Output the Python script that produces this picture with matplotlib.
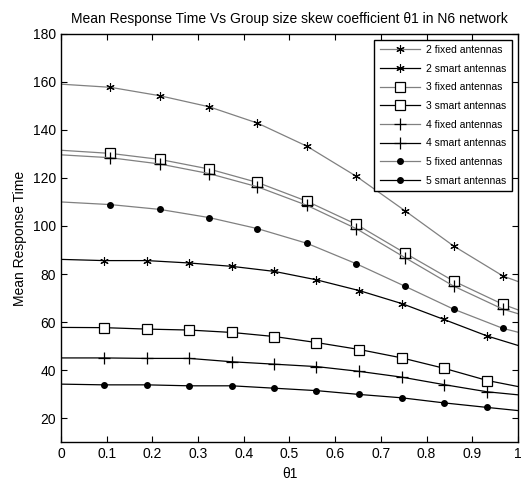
import matplotlib
matplotlib.use("Agg")
import matplotlib.pyplot as plt
import numpy as np

plt.rcParams['font.family'] = ['Liberation Sans', 'DejaVu Sans']

# x positions (start, marker positions, end)
x_fixed = [0.0, 0.108, 0.216, 0.324, 0.430, 0.538, 0.646, 0.753, 0.859, 0.967, 1.0]
x_smart = [0.0, 0.094, 0.188, 0.281, 0.374, 0.467, 0.559, 0.653, 0.746, 0.838, 0.933, 1.0]

fixed2 = [159.0, 157.7, 154.2, 149.6, 142.8, 133.2, 120.7, 106.3, 91.7, 79.2, 76.9]
fixed3 = [131.5, 130.2, 127.7, 123.7, 118.1, 110.3, 100.7, 88.7, 77.1, 67.4, 65.1]
fixed4 = [129.6, 128.4, 125.8, 121.8, 116.3, 108.6, 98.9, 86.8, 75.0, 65.4, 63.5]
fixed5 = [110.0, 108.9, 106.9, 103.5, 98.9, 92.8, 84.3, 74.9, 65.4, 57.4, 55.8]

smart2 = [86.1, 85.6, 85.6, 84.6, 83.2, 81.1, 77.6, 73.1, 67.7, 61.1, 54.2, 50.3]
smart3 = [57.8, 57.7, 57.1, 56.7, 55.7, 54.0, 51.5, 48.6, 45.1, 40.8, 35.7, 33.2]
smart4 = [45.1, 45.1, 44.9, 44.9, 43.5, 42.5, 41.5, 39.5, 37.1, 34.0, 31.0, 29.75]
smart5 = [34.2, 33.9, 33.9, 33.5, 33.5, 32.5, 31.5, 29.9, 28.5, 26.4, 24.5, 23.2]

labels = ["2 fixed antennas", "2 smart antennas", "3 fixed antennas", "3 smart antennas",
          "4 fixed antennas", "4 smart antennas", "5 fixed antennas", "5 smart antennas"]

fig = plt.figure(figsize=(5.24, 4.87), dpi=100)
ax = fig.add_axes([0.1164, 0.0918, 0.8721, 0.839])

gray = '#808080'
markers = {'2': dict(marker=(6, 2, 0), ms=6, mfc='k', mec='k', mew=0.8),
           '3': dict(marker='s', ms=7.5, mfc='white', mec='k', mew=0.9),
           '4': dict(marker='+', ms=9, mec='k', mew=0.9),
           '5': dict(marker='o', ms=4, mfc='k', mec='k')}

series = [('2', fixed2, smart2), ('3', fixed3, smart3), ('4', fixed4, smart4), ('5', fixed5, smart5)]
i = 0
for key, f, s in series:
    ax.plot(x_fixed, f, color=gray, lw=0.9, markevery=list(range(1, len(x_fixed) - 1)),
            label=labels[i], **markers[key])
    ax.plot(x_smart, s, color='k', lw=0.9, markevery=list(range(1, len(x_smart) - 1)),
            label=labels[i + 1], **markers[key])
    i += 2

ax.set_xlim(0, 1)
ax.set_ylim(10, 180)
ax.set_xticks(np.arange(0, 1.01, 0.1))
ax.set_xticklabels(['0', '0.1', '0.2', '0.3', '0.4', '0.5', '0.6', '0.7', '0.8', '0.9', '1'])
ax.set_yticks(range(20, 181, 20))
ax.tick_params(direction='in', top=True, right=True, labelsize=10, length=4, width=0.8)
for sp in ax.spines.values():
    sp.set_linewidth(1.0)

ax.set_title("Mean Response Time Vs Group size skew coefficient θ1 in N6 network", fontsize=10, pad=8)
ax.set_xlabel("θ1", fontsize=10, labelpad=4)
ax.set_ylabel("Mean Response Time", fontsize=10)

leg = ax.legend(loc='upper right', fontsize=7.5, handlelength=3.9, fancybox=False,
                framealpha=1, edgecolor='k', borderpad=0.5, labelspacing=0.83,
                borderaxespad=0, handletextpad=0.6,
                bbox_to_anchor=(0.987, 0.985))
leg.get_frame().set_linewidth(1.0)

fig.savefig("out.png", dpi=100)
